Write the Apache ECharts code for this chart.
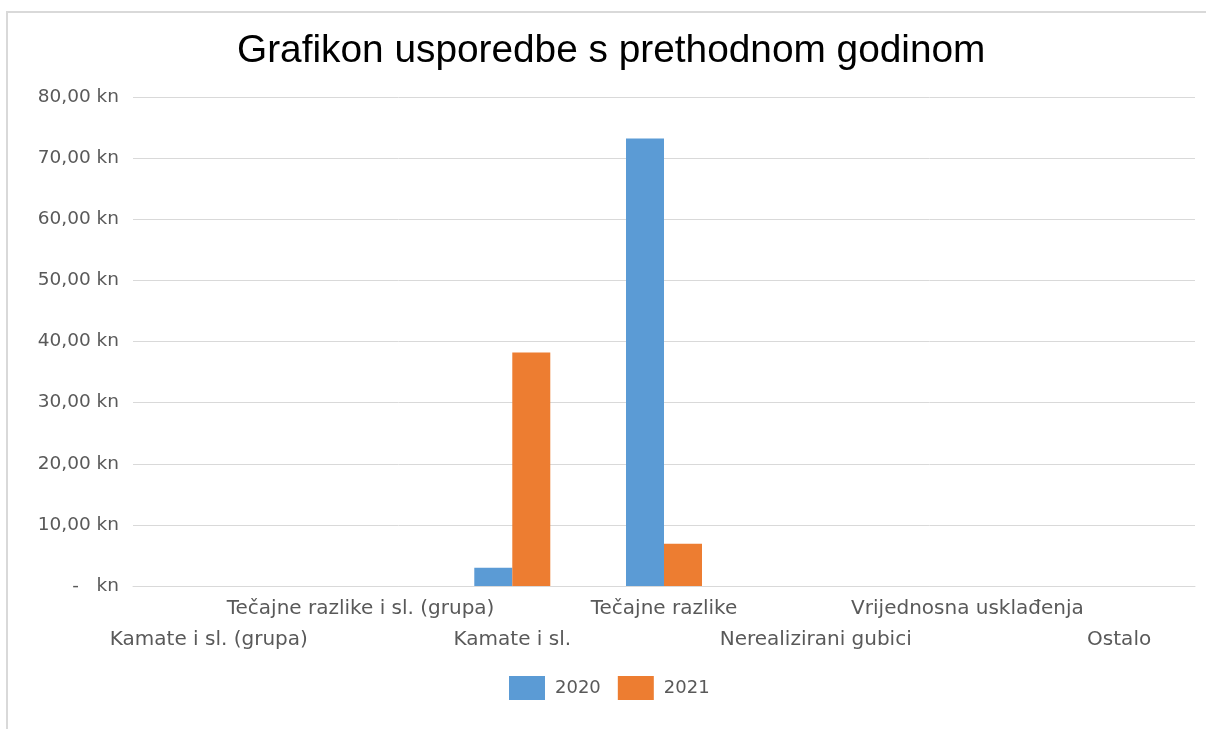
<!DOCTYPE html>
<html>
<head>
<meta charset="utf-8">
<script src="https://cdn.jsdelivr.net/npm/echarts@6/dist/echarts.min.js"></script>
<style>
html,body{margin:0;padding:0;background:#fff;overflow:hidden;}
#frame{position:absolute;left:6px;top:11px;width:1210px;height:730px;border-left:2px solid #d9d9d9;border-top:2px solid #d9d9d9;}
#chart{position:absolute;left:0;top:0;width:1206px;height:729px;}
</style>
</head>
<body>
<div id="frame"></div>
<div id="chart"></div>
<script>
const categories = ["Kamate i sl. (grupa)", "Tečajne razlike i sl. (grupa)", "Kamate i sl.", "Tečajne razlike", "Nerealizirani gubici", "Vrijednosna usklađenja", "Ostalo"];
const values2020 = [0, 0, 3.0, 73.2, 0, 0, 0];
const values2021 = [0, 0, 38.2, 6.9, 0, 0, 0];
const seriesNames = ["2020", "2021"];
const yTicks = { min: 0, max: 80, interval: 10 };

const labelFont = "'DejaVu Sans', 'Open Sans', sans-serif";
const chart = echarts.init(document.getElementById('chart'), null, { renderer: 'canvas' });
chart.setOption({
  animation: false,
  backgroundColor: 'transparent',
  title: {
    text: 'Grafikon usporedbe s prethodnom godinom',
    left: 232,
    top: 27,
    textStyle: { fontFamily: "'Liberation Sans', Arial, sans-serif", fontSize: 38.8, fontWeight: 'normal', color: '#000' }
  },
  legend: {
    data: seriesNames,
    bottom: 24,
    left: 504,
    itemWidth: 36,
    itemHeight: 24,
    itemGap: 17,
    icon: 'rect',
    textStyle: { fontFamily: labelFont, fontSize: 18, color: '#595959', padding: [0, 0, 0, 5] }
  },
  grid: { left: 133, right: 11, top: 97, bottom: 143, containLabel: false },
  xAxis: {
    type: 'category',
    data: categories,
    axisLine: { lineStyle: { color: '#d9d9d9', width: 1 } },
    axisTick: { show: false },
    axisLabel: {
      interval: 0,
      margin: 7,
      fontFamily: labelFont,
      fontSize: 20,
      color: '#595959',
      lineHeight: 31,
      formatter: function (v, i) { return i % 2 === 0 ? '\n' + v : v; }
    }
  },
  yAxis: {
    type: 'value',
    min: yTicks.min,
    max: yTicks.max,
    interval: yTicks.interval,
    axisLine: { show: false },
    axisTick: { show: false },
    splitLine: { lineStyle: { color: '#d9d9d9', width: 1 } },
    axisLabel: {
      margin: 14,
      fontFamily: labelFont,
      fontSize: 18.5,
      color: '#595959',
      formatter: function (v) { return v === 0 ? '-   kn' : v.toFixed(2).replace('.', ',') + ' kn'; }
    }
  },
  series: [
    { name: seriesNames[0], type: 'bar', data: values2020, barWidth: 38, barGap: '0%', itemStyle: { color: '#5B9BD5' } },
    { name: seriesNames[1], type: 'bar', data: values2021, barWidth: 38, barGap: '0%', itemStyle: { color: '#ED7D31' } }
  ]
});
</script>
</body>
</html>
